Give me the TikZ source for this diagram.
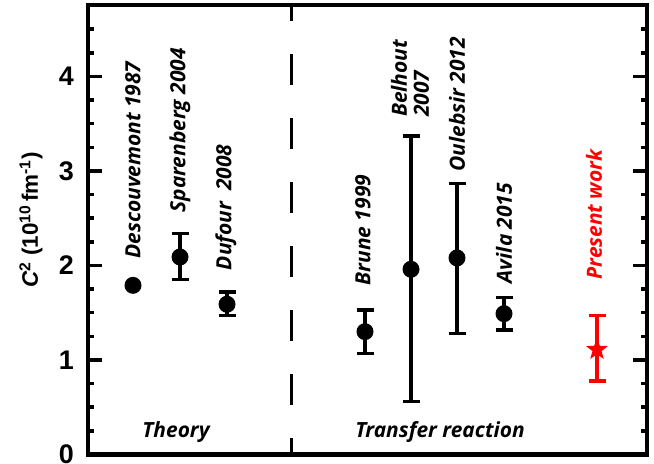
\documentclass[tikz,border=0pt]{standalone}
\usepackage{fontspec}
\setmainfont{Liberation Sans}
\newfontfamily\labfont{Open Sans}
\usetikzlibrary{shapes.geometric}

\tikzset{
  dot/.style={circle,fill=black,inner sep=0pt,minimum size=17bp},
  errbar/.style={line width=3.5bp},
  reflabel/.style={rotate=90,anchor=west,inner sep=0pt,
    font=\labfont\bfseries\itshape\fontsize{21}{22}\selectfont},
  ticklabel/.style={anchor=east,inner sep=0pt,
    font=\bfseries\fontsize{27}{27}\selectfont},
}

\begin{document}
\begin{tikzpicture}[x=1bp,y=94.5bp]
    \useasboundingbox (0,-0.1005) rectangle (654,4.8095);

    % frame and ticks
    \draw[line width=4bp] (88,0) rectangle (647,4.757);
    \foreach \v in {0.25,0.5,0.75,1.25,1.5,1.75,2.25,2.5,2.75,3.25,3.5,3.75,4.25,4.5}
        \draw[line width=3.5bp] (88,\v) -- ++(6,0) (647,\v) -- ++(-6,0);
    \foreach \v in {1,2,3,4}
        \draw[line width=3.5bp] (88,\v) -- ++(14,0) (647,\v) -- ++(-14,0);
    \foreach \v in {0,1,2,3,4}
        \node[ticklabel] (tick\v) at (74,\v) {\v};

    \node[rotate=90,font=\bfseries\fontsize{22.5}{22}\selectfont] (ylab) at (31,2.48)
        {\textit{C}\textsuperscript{2} (10\textsuperscript{10}\,fm\textsuperscript{-1})};

    % theory / experiment separator
    \draw[line width=3bp,dash pattern=on 31bp off 33bp,dash phase=15bp] (291,4.757) -- (291,0);

    % data points with error bars
    \node[dot] (desc) at (133,1.79) {};
    \foreach \name/\x/\v/\lo/\hi in {spar/180/2.09/1.85/2.34,dufo/227/1.59/1.47/1.72,
        brun/365/1.30/1.07/1.53,belh/411/1.96/0.56/3.37,oule/457/2.08/1.28/2.87,
        avil/504/1.49/1.32/1.66}
    {
        \draw[errbar] (\x-8.5,\lo) -- (\x+8.5,\lo) (\x,\lo) -- (\x,\hi) (\x-8.5,\hi) -- (\x+8.5,\hi);
        \node[dot] (\name) at (\x,\v) {};
    }

    \draw[errbar,red] (588.5,0.78) -- (605.5,0.78) (597,0.78) -- (597,1.47) (588.5,1.47) -- (605.5,1.47);
    \node[star,star points=5,star point ratio=2.4,fill=red,inner sep=0pt,minimum size=23bp] (pres) at (597,1.11) {};

    % labels
    \node[reflabel] (ldesc) at (133,2.07) {Descouvemont 1987};
    \node[reflabel] (lspar) at (180,2.56) {Sparenberg 2004};
    \node[reflabel] (ldufo) at (226,1.95) {Dufour\ \ 2008};
    \node[reflabel] (lbrun) at (363,1.79) {Brune 1999};
    \node[reflabel,align=left] (lbelh) at (410,3.57) {Belhout\\2007};
    \node[reflabel] (loule) at (457,2.99) {Oulebsir 2012};
    \node[reflabel] (lavil) at (504,1.81) {Avila 2015};
    \node[reflabel,red] (lpres) at (594,1.85) {Present work};

    \node[font=\labfont\bfseries\itshape\fontsize{21}{22}\selectfont] (theory) at (176,0.24) {Theory};
    \node[font=\labfont\bfseries\itshape\fontsize{21}{22}\selectfont] (transfer) at (440,0.24) {Transfer reaction};
\end{tikzpicture}
\end{document}
